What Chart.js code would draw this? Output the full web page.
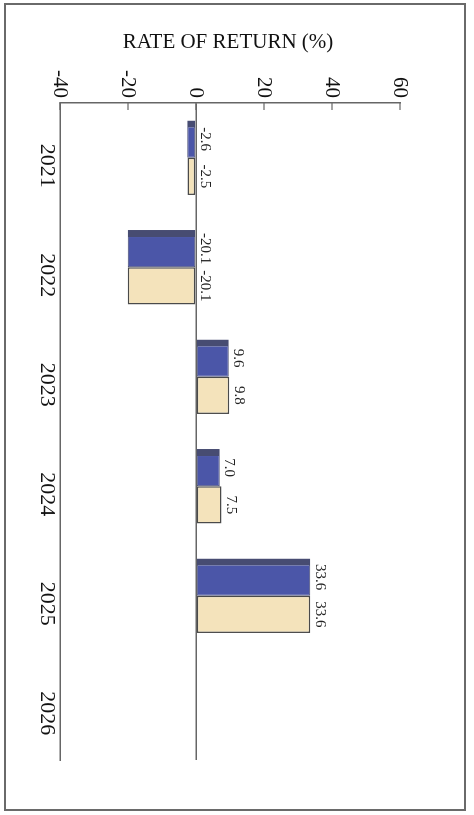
<!DOCTYPE html>
<html>
<head>
<meta charset="utf-8">
<script src="https://cdn.jsdelivr.net/npm/chart.js@4.4.1/dist/chart.umd.min.js"></script>
<style>
  html, body { margin: 0; padding: 0; background: #fff; }
  body { width: 474px; height: 815px; position: relative; overflow: hidden; }
  .frame {
    position: absolute; left: 4px; top: 3px; width: 462px; height: 808px;
    border: 2px solid #6a6a6a; box-sizing: border-box;
  }
  .chart-title {
    position: absolute; left: 0; top: 31px; width: 456px;
    text-align: center; font: 21px "Liberation Serif", serif; color: #111;
    line-height: 21px;
  }
  /* chart is drawn lying down and turned a quarter turn clockwise */
  #returns {
    position: absolute; left: 0; top: 0;
    transform-origin: 0 0;
    transform: translate(474px, 0) rotate(90deg);
  }
</style>
</head>
<body>
<div class="frame"></div>
<canvas id="returns" width="815" height="474"></canvas>
<div class="chart-title">RATE OF RETURN (%)</div>

<script>
const years = ['2021', '2022', '2023', '2024', '2025', '2026'];
const blueReturns = [-2.6, -20.1, 9.6, 7.0, 33.6, null];
const tanReturns = [-2.5, -20.1, 9.8, 7.5, 33.6, null];
const valueTicks = [-40, -20, 0, 20, 40, 60];

const axisGray = '#666';

// value labels at the end of each bar (or next to the zero line for losses)
const barLabels = {
  id: 'barLabels',
  afterDatasetsDraw(chart) {
    const ctx = chart.ctx;
    ctx.save();
    ctx.font = '15px "Liberation Serif", serif';
    ctx.fillStyle = '#222';
    ctx.textAlign = 'center';
    ctx.textBaseline = 'bottom';
    chart.data.datasets.forEach((ds, i) => {
      chart.getDatasetMeta(i).data.forEach((bar, j) => {
        const v = ds.data[j];
        if (v == null) return;
        const end = Math.min(bar.y, bar.base);
        ctx.fillText(v.toFixed(1), bar.x, end - 2);
      });
    });
    ctx.restore();
  }
};

// short tick marks pointing into the plot on the value axis
const innerTicks = {
  id: 'innerTicks',
  afterDraw(chart) {
    const scale = chart.scales.y;
    const left = chart.chartArea.left;
    const ctx = chart.ctx;
    ctx.save();
    ctx.strokeStyle = axisGray;
    ctx.lineWidth = 1.2;
    valueTicks.forEach(v => {
      const p = scale.getPixelForValue(v);
      ctx.beginPath();
      ctx.moveTo(left, p);
      ctx.lineTo(left + 7, p);
      ctx.stroke();
    });
    ctx.restore();
  }
};

new Chart(document.getElementById('returns'), {
  type: 'bar',
  data: {
    labels: years,
    datasets: [
      {
        label: 'Series 1',
        data: blueReturns,
        backgroundColor: '#4b56a8',
        borderColor: '#474c72',
        borderWidth: { left: 7, top: 1, right: 1, bottom: 1 },
        borderSkipped: false
      },
      {
        label: 'Series 2',
        data: tanReturns,
        backgroundColor: '#f4e3bb',
        borderColor: '#4a4a4a',
        borderWidth: 1.5,
        borderSkipped: false
      }
    ]
  },
  options: {
    responsive: false,
    animation: false,
    devicePixelRatio: 1,
    layout: { padding: { left: 0, right: 55, top: 74, bottom: 0 } },
    categoryPercentage: 0.68,
    barPercentage: 1,
    plugins: {
      legend: { display: false },
      tooltip: { enabled: false }
    },
    scales: {
      x: {
        grid: { display: false },
        border: { display: true, color: axisGray, width: 1.5 },
        ticks: {
          color: '#111',
          font: { family: '"Liberation Serif", serif', size: 22 },
          padding: -8,
          labelOffset: 8,
          maxRotation: 0,
          autoSkip: false
        },
        afterFit(scale) { scale.height = 60; }
      },
      y: {
        min: -40,
        max: 60,
        afterBuildTicks(scale) { scale.ticks = valueTicks.map(v => ({ value: v })); },
        grid: {
          drawTicks: false,
          color: c => (c.tick && c.tick.value === 0 ? axisGray : 'transparent'),
          lineWidth: 1.5
        },
        border: { display: true, color: axisGray, width: 1.5 },
        ticks: {
          color: '#111',
          font: { family: '"Liberation Serif", serif', size: 21 },
          padding: 5
        },
        afterFit(scale) { scale.width = 103; }
      }
    }
  },
  plugins: [barLabels, innerTicks]
});
</script>
</body>
</html>
